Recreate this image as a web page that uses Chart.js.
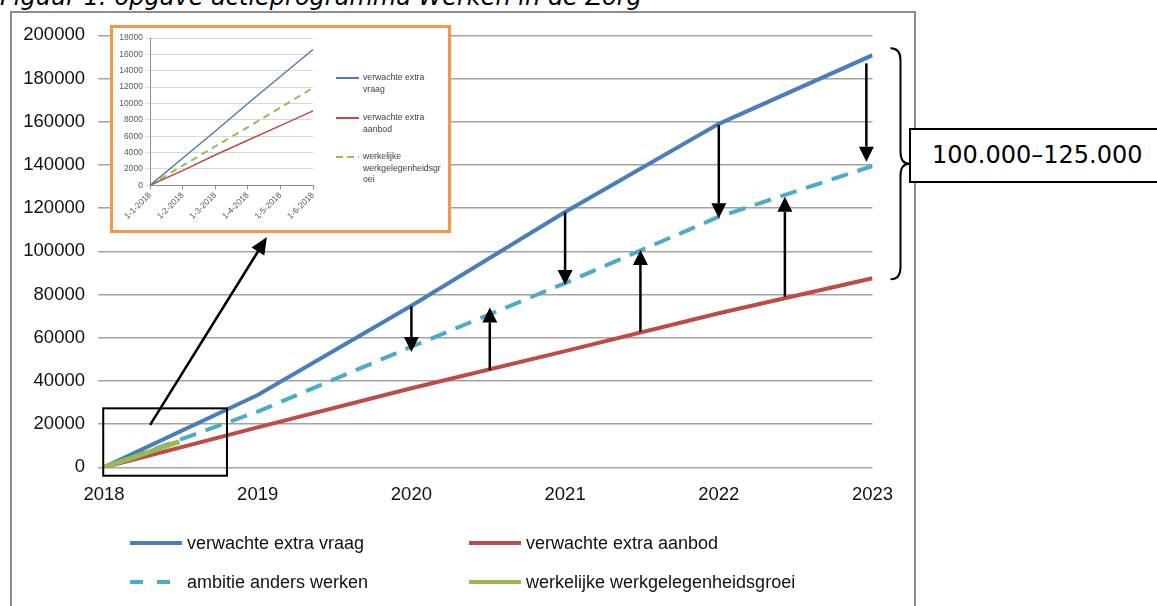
<!DOCTYPE html>
<html lang="nl">
<head>
<meta charset="utf-8">
<title>Figuur 1: opgave actieprogramma Werken in de Zorg</title>
<script src="https://cdn.jsdelivr.net/npm/chart.js@4/dist/chart.umd.min.js"></script>
<style>
  html, body { margin: 0; padding: 0; background: #fff; }
  body { position: relative; width: 1157px; height: 606px; overflow: hidden; font-family: "Liberation Sans", Arial, sans-serif; }
  #title { position: absolute; left: 0; top: -15px; font: italic 24px/24px "DejaVu Sans", sans-serif; color: #000; white-space: nowrap; }
  #frame { position: absolute; left: 10px; top: 11px; width: 906px; height: 700px; border: 2px solid #8c8c8c; box-sizing: border-box; }
  #mainChart { position: absolute; left: 0; top: 0; }
  #inset { position: absolute; left: 110px; top: 25px; width: 341px; height: 208px; border: 3px solid #f79646; box-sizing: border-box; background: #fff; }
  #insetChart { position: absolute; left: 0; top: 0; }
  #callout { position: absolute; left: 909px; top: 128px; width: 300px; height: 55px; border: 2px solid #000; box-sizing: border-box; background: #fff;
             font: 24px/51px "DejaVu Sans", sans-serif; padding-left: 21px; color: #000; white-space: nowrap; }
  .legend-item { position: absolute; height: 22px; display: flex; align-items: center; font-size: 18px; color: #111; white-space: nowrap; }
  .legend-item svg { margin-right: 5px; }
  .inset-legend { position: absolute; display: flex; font-size: 8.7px; line-height: 11.5px; color: #404040; }
  .inset-legend svg { margin-right: 4px; margin-top: 1px; }
</style>
</head>
<body>
<div id="title">Figuur 1: opgave actieprogramma Werken in de Zorg</div>
<div id="frame"></div>
<canvas id="mainChart" width="1157" height="606"></canvas>
<div id="inset"><canvas id="insetChart" width="335" height="202"></canvas></div>
<div id="callout">100.000–125.000</div>

<script>
// main chart
const years = [2018, 2019, 2020, 2021, 2022, 2023];
const xTickLabels = ["2018", "2019", "2020", "2021", "2022", "2023"];
const vraag = [0, 33500, 74800, 118200, 159000, 190800];
const aanbod = [0, 18500, 36600, 53800, 71300, 87500];
const ambitie = [0, 25800, 55800, 85300, 116000, 139500];
const groeiYears = [2018, 2018.49];
const groei = [0, 11900];

const seriesLabels = ["verwachte extra vraag", "verwachte extra aanbod", "ambitie anders werken", "werkelijke werkgelegenheidsgroei"];
const seriesColors = ["#4a7ebb", "#be4b48", "#4bacc6", "#98b954"];

// arrows between the lines (x in years, from/to in persons)
const arrowX = [2020, 2020.51, 2021, 2021.49, 2022, 2022.43, 2022.96];
const arrowFrom = [74500, 45000, 118000, 62800, 158500, 79000, 187000];
const arrowTo = [53400, 74000, 84400, 100600, 115300, 125300, 141500];

// zoom box around the first months and the pointer to the inset
const zoomBoxX = [2017.995, 2018.8];
const zoomBoxY = [27300, -3900];
const pointerX = [2018.3, 2019.06];
const pointerY = [19600, 106600];

// inset chart
const insetDates = ["1-1-2018", "1-2-2018", "1-3-2018", "1-4-2018", "1-5-2018", "1-6-2018"];
const insetVraag = [0, 3300, 6600, 10000, 13300, 16600];
const insetAanbod = [0, 1800, 3700, 5500, 7300, 9100];
const insetGroei = [0, 2400, 4750, 7100, 9500, 11900];
const insetLabels = [["verwachte extra", "vraag"], ["verwachte extra", "aanbod"], ["werkelijke", "werkgelegenheidsgr", "oei"]];
const insetColors = ["#4a7ebb", "#be4b48", "#9bbb59"];

Chart.defaults.font.family = '"Liberation Sans", Arial, sans-serif';

const toPoints = (xs, ys) => xs.map((x, i) => ({ x: x, y: ys[i] }));

function drawArrow(ctx, x1, y1, x2, y2, len, half) {
  const a = Math.atan2(y2 - y1, x2 - x1);
  const bx = x2 - Math.cos(a) * len;
  const by = y2 - Math.sin(a) * len;
  ctx.beginPath();
  ctx.moveTo(x1, y1);
  ctx.lineTo(bx, by);
  ctx.stroke();
  ctx.beginPath();
  ctx.moveTo(x2, y2);
  ctx.lineTo(bx + Math.sin(a) * half, by - Math.cos(a) * half);
  ctx.lineTo(bx - Math.sin(a) * half, by + Math.cos(a) * half);
  ctx.closePath();
  ctx.fill();
}

const annotations = {
  id: "annotations",
  afterDatasetsDraw(chart) {
    const { ctx, chartArea } = chart;
    const x = chart.scales.x;
    const y = chart.scales.y;
    ctx.save();
    ctx.strokeStyle = "#000";
    ctx.fillStyle = "#000";
    ctx.lineWidth = 2.5;

    arrowX.forEach((v, i) => {
      const px = x.getPixelForValue(v);
      drawArrow(ctx, px, y.getPixelForValue(arrowFrom[i]), px, y.getPixelForValue(arrowTo[i]), 15, 7.5);
    });

    drawArrow(ctx, x.getPixelForValue(pointerX[0]), y.getPixelForValue(pointerY[0]),
      x.getPixelForValue(pointerX[1]), y.getPixelForValue(pointerY[1]), 17, 7.5);

    ctx.lineWidth = 2;
    const bx0 = x.getPixelForValue(zoomBoxX[0]);
    const bx1 = x.getPixelForValue(zoomBoxX[1]);
    const by0 = y.getPixelForValue(zoomBoxY[0]);
    const by1 = y.getPixelForValue(zoomBoxY[1]);
    ctx.strokeRect(bx0, by0, bx1 - bx0, by1 - by0);

    // curly brace spanning the gap between demand and supply in 2023
    const top = y.getPixelForValue(vraag[vraag.length - 1]) - 7;
    const bot = y.getPixelForValue(aanbod[aanbod.length - 1]) + 1;
    const mid = (top + bot) / 2;
    const x0 = chartArea.right + 18;
    const xm = x0 + 10;
    const xt = x0 + 19;
    ctx.lineWidth = 2;
    ctx.beginPath();
    ctx.moveTo(x0, top);
    ctx.quadraticCurveTo(xm, top, xm, top + 12);
    ctx.lineTo(xm, mid - 12);
    ctx.quadraticCurveTo(xm, mid, xt, mid);
    ctx.quadraticCurveTo(xm, mid, xm, mid + 12);
    ctx.lineTo(xm, bot - 12);
    ctx.quadraticCurveTo(xm, bot, x0, bot);
    ctx.stroke();
    ctx.restore();
  },
};

const tickFont = { size: 18.5 };

new Chart(document.getElementById("mainChart"), {
  type: "line",
  data: {
    datasets: [
      { label: seriesLabels[3], data: toPoints(groeiYears, groei), borderColor: seriesColors[3], borderWidth: 5, order: 0 },
      { label: seriesLabels[0], data: toPoints(years, vraag), borderColor: seriesColors[0], borderWidth: 4, order: 1 },
      { label: seriesLabels[1], data: toPoints(years, aanbod), borderColor: seriesColors[1], borderWidth: 4, order: 2 },
      { label: seriesLabels[2], data: toPoints(years, ambitie), borderColor: seriesColors[2], borderWidth: 4, borderDash: [17, 10], order: 3 },
    ],
  },
  options: {
    responsive: false,
    animation: false,
    devicePixelRatio: 1,
    elements: { point: { radius: 0 }, line: { tension: 0, borderCapStyle: "butt" } },
    layout: { padding: { left: 0, top: 35.3, right: 284.5, bottom: 0 } },
    plugins: { legend: { display: false }, tooltip: { enabled: false } },
    scales: {
      x: {
        type: "linear",
        min: 2018,
        max: 2023,
        ticks: { stepSize: 1, font: tickFont, color: "#111", padding: 17, callback: (v) => xTickLabels[years.indexOf(v)] },
        grid: { display: false, drawTicks: false },
        border: { display: false },
        afterFit: (s) => { s.height = 606 - 467.3; },
      },
      y: {
        min: 0,
        max: 200000,
        ticks: { stepSize: 20000, font: tickFont, color: "#111", padding: 13, format: { useGrouping: false } },
        grid: { color: "#a3a3a3", lineWidth: 1.5, tickLength: 6 },
        border: { display: false },
        afterFit: (s) => { s.width = 104; },
      },
    },
  },
  plugins: [annotations],
});

new Chart(document.getElementById("insetChart"), {
  type: "line",
  data: {
    labels: insetDates,
    datasets: [
      { label: insetLabels[0].join(" "), data: insetVraag, borderColor: insetColors[0], borderWidth: 1.5 },
      { label: insetLabels[1].join(" "), data: insetAanbod, borderColor: insetColors[1], borderWidth: 1.5 },
      { label: insetLabels[2].join(""), data: insetGroei, borderColor: insetColors[2], borderWidth: 2, borderDash: [7, 5] },
    ],
  },
  options: {
    responsive: false,
    animation: false,
    devicePixelRatio: 1,
    elements: { point: { radius: 0 }, line: { tension: 0 } },
    layout: { padding: { left: 0, top: 10, right: 135, bottom: 0 } },
    plugins: { legend: { display: false }, tooltip: { enabled: false } },
    scales: {
      x: {
        offset: false,
        ticks: { font: { size: 8.5 }, color: "#595959", minRotation: 45, maxRotation: 45, autoSkip: false, padding: 1 },
        grid: { drawOnChartArea: false, color: "#8c8c8c", tickLength: 4 },
        border: { display: true, color: "#8c8c8c" },
        afterFit: (s) => { s.height = 44.7; },
      },
      y: {
        min: 0,
        max: 18000,
        ticks: { stepSize: 2000, font: { size: 8.5 }, color: "#595959", padding: 3, format: { useGrouping: false } },
        grid: { color: "#d9d9d9", tickLength: 4 },
        border: { display: true, color: "#8c8c8c" },
        afterFit: (s) => { s.width = 37; },
      },
    },
  },
});

// main legend, two columns
const legendPos = [[130, 532], [469, 532], [130, 571], [469, 571]];
const legendOrder = [0, 1, 2, 3];
legendOrder.forEach((k, i) => {
  const item = document.createElement("div");
  item.className = "legend-item";
  item.style.left = legendPos[i][0] + "px";
  item.style.top = legendPos[i][1] + "px";
  const dash = k === 2 ? ' stroke-dasharray="13 14"' : "";
  item.innerHTML = '<svg width="52" height="22"><line x1="0" y1="11" x2="52" y2="11" stroke="' + seriesColors[k] +
    '" stroke-width="4"' + dash + "/></svg>";
  const span = document.createElement("span");
  span.textContent = seriesLabels[k];
  item.appendChild(span);
  document.body.appendChild(item);
});

// inset legend, right of the small plot
const insetLegendTop = [44.3, 84.3, 123.3];
const inset = document.getElementById("inset");
insetLabels.forEach((lines, k) => {
  const item = document.createElement("div");
  item.className = "inset-legend";
  item.style.left = "223px";
  item.style.top = insetLegendTop[k] + "px";
  const dash = k === 2 ? ' stroke-dasharray="7 4"' : "";
  item.innerHTML = '<svg width="23" height="10"><line x1="0" y1="5" x2="23" y2="5" stroke="' + insetColors[k] +
    '" stroke-width="2"' + dash + "/></svg>";
  const txt = document.createElement("div");
  lines.forEach((l) => {
    const d = document.createElement("div");
    d.textContent = l;
    txt.appendChild(d);
  });
  item.appendChild(txt);
  inset.appendChild(item);
});
</script>
</body>
</html>
